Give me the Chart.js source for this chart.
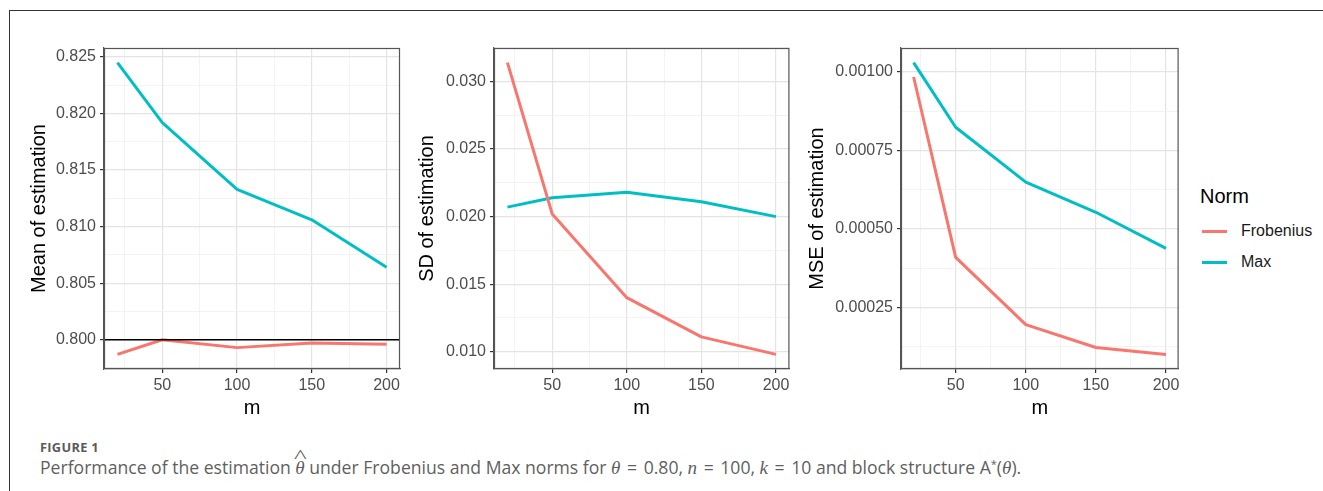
<!DOCTYPE html>
<html>
<head>
<meta charset="utf-8">
<script src="https://cdn.jsdelivr.net/npm/chart.js@4.4.1/dist/chart.umd.min.js"></script>
<style>
  html, body { margin: 0; padding: 0; background: #fff; }
  body { width: 1323px; height: 491px; position: relative; overflow: hidden; font-family: "Liberation Sans", Arial, sans-serif; }
  #frame { position: absolute; left: 9px; top: 10px; width: 1320px; height: 490px; border-left: 1px solid #333; border-top: 1px solid #333; }
  canvas.panel { position: absolute; top: 20px; }
  #legend { position: absolute; left: 1195px; top: 180px; width: 128px; color: #1a1a1a; }
  #legend .title { position: absolute; left: 5px; top: 4px; font-size: 20px; line-height: 24px; color: #000; }
  #legend .sw { position: absolute; left: 7px; width: 25px; height: 3px; }
  #legend .lab { position: absolute; left: 46px; font-size: 16px; line-height: 20px; }
  #figlabel { position: absolute; left: 40px; top: 439px; font-family: "Open Sans", sans-serif; font-size: 12.8px; line-height: 16px; font-weight: 700; color: #5a5a5a; letter-spacing: 0.3px; }
  #caption { position: absolute; left: 40px; top: 456px; font-family: "Open Sans", sans-serif; font-size: 17.6px; line-height: 22px; color: #5f5f5f; white-space: nowrap; }
  #caption i { font-family: "Liberation Serif", serif; font-size: 19px; }
  #caption .eq { margin: 0 2px; }
  .hat { position: relative; display: inline-block; }
  .hat .h { position: absolute; left: 1px; top: -10px; font-style: normal; font-family: "Liberation Serif", serif; font-size: 18px; transform: scaleX(1.5); }
  sup { font-size: 11px; vertical-align: 6px; line-height: 0; }
</style>
</head>
<body>
<div id="frame"></div>
<canvas id="c1" class="panel" width="400" height="410" style="left:14px"></canvas>
<canvas id="c2" class="panel" width="394" height="410" style="left:410px"></canvas>
<canvas id="c3" class="panel" width="393" height="410" style="left:800px"></canvas>

<div id="legend">
  <div class="title">Norm</div>
  <div class="sw" style="top:50px;background:#F8766D"></div>
  <div class="lab" style="top:41px">Frobenius</div>
  <div class="sw" style="top:81px;background:#00BFC4"></div>
  <div class="lab" style="top:72px">Max</div>
</div>

<div id="figlabel">FIGURE 1</div>
<div id="caption">Performance of the estimation <span class="hat"><i>θ</i><span class="h">^</span></span> under Frobenius and Max norms for <i>θ</i> <span class="eq">=</span> 0.80, <i>n</i> <span class="eq">=</span> 100, <i>k</i> <span class="eq">=</span> 10 and block structure A<sup>*</sup>(<i>θ</i>).</div>

<script>
// ---- data ----
const mValues = [20, 50, 100, 150, 200];
const seriesNames = ['Frobenius', 'Max'];

const meanFrobenius = [0.7987, 0.8000, 0.7993, 0.7997, 0.7996];
const meanMax       = [0.8245, 0.8192, 0.8133, 0.8106, 0.8064];

const sdFrobenius = [0.0314, 0.0202, 0.0140, 0.0111, 0.0098];
const sdMax       = [0.0207, 0.0214, 0.0218, 0.0211, 0.0200];

const mseFrobenius = [0.000984, 0.000409, 0.000195, 0.000122, 0.000100];
const mseMax       = [0.00103, 0.000824, 0.000649, 0.000553, 0.000438];

const trueTheta = 0.80;

// ---- tick values and labels ('' = minor grid line) ----
const xTickValues = [25, 50, 75, 100, 125, 150, 175, 200];
const xTickLabels = ['', '50', '', '100', '', '150', '', '200'];

const meanTickValues = [0.7975, 0.8, 0.8025, 0.805, 0.8075, 0.81, 0.8125, 0.815, 0.8175, 0.82, 0.8225, 0.825];
const meanTickLabels = ['', '0.800', '', '0.805', '', '0.810', '', '0.815', '', '0.820', '', '0.825'];

const sdTickValues = [0.01, 0.0125, 0.015, 0.0175, 0.02, 0.0225, 0.025, 0.0275, 0.03, 0.0325];
const sdTickLabels = ['0.010', '', '0.015', '', '0.020', '', '0.025', '', '0.030', ''];

const mseTickValues = [0.000125, 0.00025, 0.000375, 0.0005, 0.000625, 0.00075, 0.000875, 0.001];
const mseTickLabels = ['', '0.00025', '', '0.00050', '', '0.00075', '', '0.00100'];

const colors = { Frobenius: '#F8766D', Max: '#00BFC4' };

// ---- plugin: panel border + reference line ----
const panelFrame = {
  id: 'panelFrame',
  afterDatasetsDraw(chart, args, opts) {
    const { ctx, chartArea: a, scales } = chart;
    ctx.save();
    if (opts && opts.ref != null) {
      const y = scales.y.getPixelForValue(opts.ref);
      ctx.strokeStyle = '#000';
      ctx.lineWidth = 1.6;
      ctx.beginPath();
      ctx.moveTo(a.left, y);
      ctx.lineTo(a.right, y);
      ctx.stroke();
    }
    ctx.strokeStyle = '#555';
    ctx.lineWidth = 1.2;
    ctx.strokeRect(a.left + 0.5, a.top + 0.5, a.right - a.left - 1, a.bottom - a.top - 1);
    ctx.restore();
  }
};

function makePanel(id, o) {
  const ds = (name, vals) => ({
    label: name,
    data: mValues.map((x, i) => ({ x: x, y: vals[i] })),
    borderColor: colors[name],
    backgroundColor: colors[name],
    borderWidth: 3,
    pointRadius: 0,
    tension: 0,
    fill: false,
    borderJoinStyle: 'round',
    borderCapStyle: 'butt'
  });
  const gridOpts = (labels) => ({
    color: c => (labels[c.index] ? '#e4e4e4' : '#f0f0f0'),
    lineWidth: c => (labels[c.index] ? 1.2 : 0.8),
    drawTicks: true,
    tickLength: 4,
    tickWidth: 1.2,
    tickColor: c => (labels[c.index] ? '#333' : 'rgba(0,0,0,0)')
  });
  return new Chart(document.getElementById(id), {
    type: 'line',
    data: { datasets: [ds(seriesNames[0], o.frob), ds(seriesNames[1], o.max)] },
    plugins: [panelFrame],
    options: {
      responsive: false,
      animation: false,
      events: [],
      layout: { padding: { top: 28, right: o.padRight, left: 0, bottom: 0 } },
      plugins: {
        legend: { display: false },
        tooltip: { enabled: false },
        panelFrame: { ref: o.ref }
      },
      scales: {
        x: {
          type: 'linear',
          min: 11, max: 209,
          afterBuildTicks: s => { s.ticks = xTickValues.map(v => ({ value: v })); },
          afterFit: s => { s.height = 61; },
          ticks: {
            autoSkip: false, maxRotation: 0, minRotation: 0, padding: 3,
            color: '#4d4d4d', font: { family: 'Liberation Sans', size: 16 },
            callback: (v, i) => xTickLabels[i]
          },
          grid: gridOpts(xTickLabels),
          border: { display: true, color: '#555', width: 1.2 },
          title: { display: true, text: 'm', color: '#000', font: { family: 'Liberation Sans', size: 20 }, padding: { top: 0, bottom: 10 } }
        },
        y: {
          type: 'linear',
          min: o.ymin, max: o.ymax,
          afterBuildTicks: s => { s.ticks = o.yVals.map(v => ({ value: v })); },
          afterFit: s => { s.width = o.yWidth; },
          ticks: {
            autoSkip: false, padding: 4,
            color: '#4d4d4d', font: { family: 'Liberation Sans', size: 16 },
            callback: (v, i) => o.yLabels[i]
          },
          grid: gridOpts(o.yLabels),
          border: { display: true, color: '#555', width: 1.2 },
          title: { display: true, text: o.title, color: '#000', font: { family: 'Liberation Sans', size: 20 }, padding: { top: o.titlePad, bottom: 0 } }
        }
      }
    }
  });
}

makePanel('c1', {
  frob: meanFrobenius, max: meanMax, ref: trueTheta,
  ymin: 0.79741, ymax: 0.82579,
  yVals: meanTickValues, yLabels: meanTickLabels,
  yWidth: 90, padRight: 14, titlePad: 13.5, title: 'Mean of estimation'
});
makePanel('c2', {
  frob: sdFrobenius, max: sdMax, ref: null,
  ymin: 0.00872, ymax: 0.03248,
  yVals: sdTickValues, yLabels: sdTickLabels,
  yWidth: 84, padRight: 14.6, titlePad: 5, title: 'SD of estimation'
});
makePanel('c3', {
  frob: mseFrobenius, max: mseMax, ref: null,
  ymin: 0.0000535, ymax: 0.0010765,
  yVals: mseTickValues, yLabels: mseTickLabels,
  yWidth: 101, padRight: 14.4, titlePad: 5, title: 'MSE of estimation'
});
</script>
</body>
</html>
